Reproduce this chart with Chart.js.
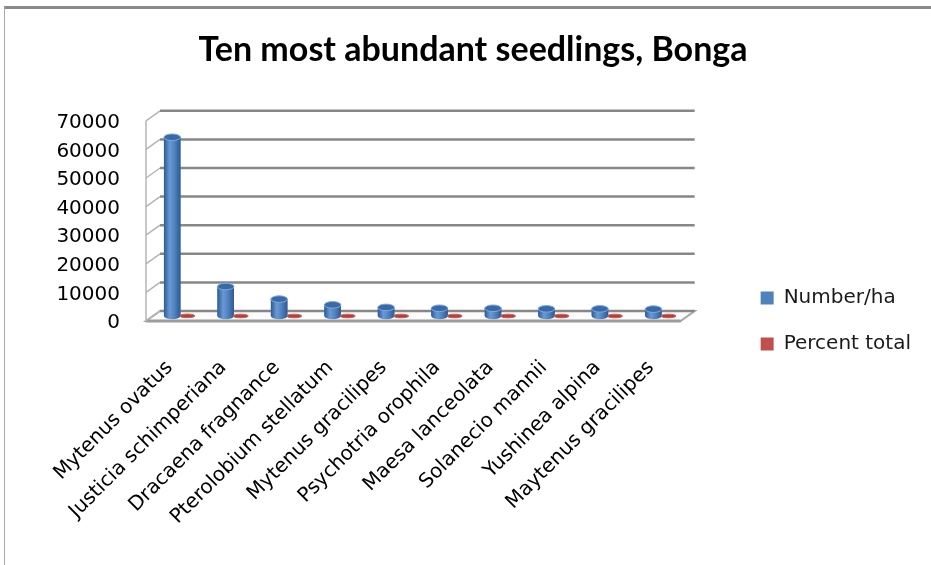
<!DOCTYPE html>
<html>
<head>
<meta charset="utf-8">
<title>Ten most abundant seedlings, Bonga</title>
<script src="https://cdn.jsdelivr.net/npm/chart.js@4/dist/chart.umd.min.js"></script>
<style>
  body { margin: 0; background: #fff; }
  canvas { display: block; }
</style>
</head>
<body>
<canvas id="seedlings" width="931" height="565"></canvas>
<script>
const species = [
    'Mytenus ovatus', 'Justicia schimperiana', 'Dracaena fragnance',
    'Pterolobium stellatum', 'Mytenus gracilipes', 'Psychotria orophila',
    'Maesa lanceolata', 'Solanecio mannii', 'Yushinea alpina', 'Maytenus gracilipes'
];
const numberPerHa = [62500, 10300, 5900, 3900, 3000, 2700, 2700, 2500, 2500, 2400];
const percentTotal = [47.5, 7.8, 4.5, 2.9, 2.3, 2.0, 2.0, 1.9, 1.9, 1.8];
const yTickValues = [0, 10000, 20000, 30000, 40000, 50000, 60000, 70000];

// half of the box depth: back wall sits up/right, front edge down/left
const DX = 7;
const DY = 5;

function line(ctx, x1, y1, x2, y2) {
    ctx.beginPath();
    ctx.moveTo(x1, y1);
    ctx.lineTo(x2, y2);
    ctx.stroke();
}

// outer frame of the chart
const framePlugin = {
    id: 'frame',
    beforeDraw(chart) {
        const ctx = chart.ctx;
        ctx.save();
        ctx.fillStyle = '#fff';
        ctx.fillRect(0, 0, chart.width, chart.height);
        ctx.strokeStyle = '#8a8a8a';
        ctx.lineWidth = 3;
        line(ctx, 4, 7.5, chart.width, 7.5);
        ctx.strokeStyle = '#a8a8a8';
        ctx.lineWidth = 1;
        line(ctx, 4.5, 7, 4.5, chart.height);
        ctx.restore();
    }
};

// back wall gridlines, left wall and floor of the 3d box
const wallsPlugin = {
    id: 'walls',
    beforeDatasetsDraw(chart) {
        const ctx = chart.ctx;
        const a = chart.chartArea;
        const y = chart.scales.y;
        const y0 = y.getPixelForValue(0);
        const yTop = y.getPixelForValue(y.max);
        ctx.save();

        // floor
        ctx.beginPath();
        ctx.moveTo(a.left - DX, y0 + DY);
        ctx.lineTo(a.right - DX, y0 + DY);
        ctx.lineTo(a.right + DX, y0 - DY);
        ctx.lineTo(a.left + DX, y0 - DY);
        ctx.closePath();
        ctx.fillStyle = '#fbfbfb';
        ctx.fill();
        ctx.strokeStyle = '#a6a6a6';
        ctx.lineWidth = 2;
        ctx.stroke();
        ctx.lineWidth = 3;
        ctx.strokeStyle = '#9c9c9c';
        line(ctx, a.left - DX, y0 + DY, a.right - DX, y0 + DY);

        // left wall
        ctx.strokeStyle = '#b4b4b4';
        ctx.lineWidth = 1.5;
        line(ctx, a.left - DX, y0 + DY, a.left - DX, yTop + DY);
        y.ticks.forEach(t => {
            const py = y.getPixelForValue(t.value);
            line(ctx, a.left - DX, py + DY, a.left + DX, py - DY);
        });

        // back wall gridlines
        ctx.strokeStyle = '#878787';
        ctx.lineWidth = 2.5;
        y.ticks.forEach(t => {
            const py = y.getPixelForValue(t.value);
            line(ctx, a.left + DX, py - DY, a.right + DX, py - DY);
        });
        ctx.restore();
    }
};

const barShades = [
    { dark: '#2c5a94', light: '#6a9ad6', mid: '#4f81bd', top: '#3a69a8', rim: '#7eaae0', flat: 0.2 },
    { dark: '#8e2f2c', light: '#d06a67', mid: '#c0504d', top: '#b2403d', rim: '#c86360', flat: 0.12 }
];

// turns each flat bar into a cylinder
const cylinderPlugin = {
    id: 'cylinders',
    afterDatasetsDraw(chart) {
        const ctx = chart.ctx;
        ctx.save();
        chart.getSortedVisibleDatasetMetas().forEach(meta => {
            const shade = barShades[meta.index];
            meta.data.forEach(bar => {
                const p = bar.getProps(['x', 'y', 'base', 'width'], true);
                const rx = p.width / 2;
                const ry = p.width * shade.flat;
                const left = p.x - rx;
                const grad = ctx.createLinearGradient(left, 0, left + p.width, 0);
                grad.addColorStop(0, shade.dark);
                grad.addColorStop(0.35, shade.light);
                grad.addColorStop(0.65, shade.mid);
                grad.addColorStop(1, shade.dark);

                // body with rounded bottom
                ctx.beginPath();
                ctx.moveTo(left, p.y);
                ctx.lineTo(left, p.base);
                ctx.ellipse(p.x, p.base, rx, ry, 0, Math.PI, 0, true);
                ctx.lineTo(left + p.width, p.y);
                ctx.closePath();
                ctx.fillStyle = grad;
                ctx.fill();

                // top cap
                ctx.beginPath();
                ctx.ellipse(p.x, p.y, rx, ry, 0, 0, Math.PI * 2);
                ctx.fillStyle = shade.top;
                ctx.fill();
                ctx.strokeStyle = shade.rim;
                ctx.lineWidth = 1;
                ctx.stroke();
            });
        });
        ctx.restore();
    }
};

new Chart(document.getElementById('seedlings'), {
    type: 'bar',
    data: {
        labels: species,
        datasets: [
            {
                label: 'Number/ha',
                data: numberPerHa,
                backgroundColor: '#4f81bd',
                borderWidth: 0,
                barPercentage: 1.1,
                categoryPercentage: 0.5625
            },
            {
                label: 'Percent total',
                data: percentTotal,
                backgroundColor: '#c0504d',
                borderWidth: 0,
                barPercentage: 1.0,
                categoryPercentage: 0.5625
            }
        ]
    },
    options: {
        responsive: false,
        animation: false,
        layout: { padding: { left: 25, right: 10, top: 0, bottom: 0 } },
        plugins: {
            title: {
                display: true,
                text: 'Ten most abundant seedlings, Bonga',
                color: '#000',
                font: { family: 'Lato', size: 34, weight: 'bold', lineHeight: 1.2 },
                padding: { top: 30, bottom: 45 }
            },
            legend: {
                position: 'right',
                align: 'center',
                maxWidth: 220,
                title: { display: true, text: '', font: { size: 10, lineHeight: 1 }, padding: { top: 0, bottom: 67 } },
                labels: {
                    boxWidth: 13,
                    boxHeight: 13,
                    padding: 26,
                    color: '#1a1a1a',
                    font: { family: 'DejaVu Sans', size: 20 }
                }
            },
            tooltip: { enabled: false }
        },
        scales: {
            x: {
                grid: { display: false, drawTicks: false },
                border: { display: false },
                ticks: {
                    minRotation: 45,
                    maxRotation: 45,
                    padding: 40,
                    labelOffset: -10,
                    color: '#000',
                    font: { family: 'DejaVu Sans', size: 20 }
                },
                afterFit(scale) { scale.height = 249; }
            },
            y: {
                min: 0,
                max: 70000,
                grid: { display: false, drawTicks: false },
                border: { display: false },
                afterBuildTicks(scale) {
                    scale.ticks = yTickValues.map(v => ({ value: v }));
                },
                ticks: {
                    padding: 33,
                    labelOffset: 7,
                    color: '#000',
                    font: { family: 'DejaVu Sans', size: 20 },
                    callback: v => String(v)
                },
                afterFit(scale) { scale.width = 128; }
            },
            // empty gutter between the box and the legend
            gutter: {
                type: 'linear',
                position: 'right',
                display: true,
                grid: { display: false, drawTicks: false },
                border: { display: false },
                ticks: { display: false },
                afterFit(scale) { scale.width = 47; }
            }
        }
    },
    plugins: [framePlugin, wallsPlugin, cylinderPlugin]
});
</script>
</body>
</html>
